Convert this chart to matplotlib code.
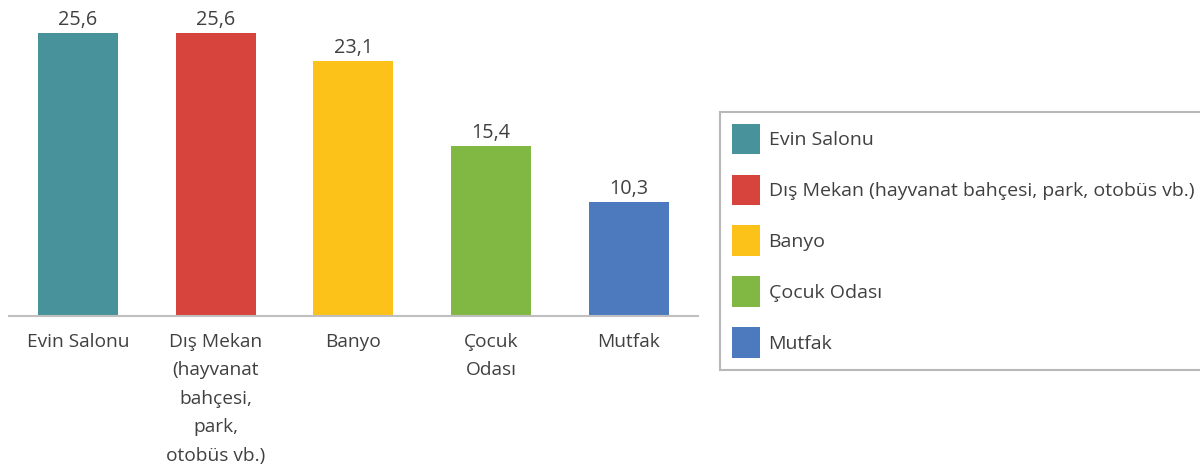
import matplotlib.pyplot as plt
from matplotlib.patches import Patch

categories = ['Evin Salonu', 'Dış Mekan (hayvanat bahçesi, park, otobüs vb.)',
              'Banyo', 'Çocuk Odası', 'Mutfak']
tick_labels = ['Evin Salonu', 'Dış Mekan\n(hayvanat\nbahçesi,\npark,\notobüs vb.)',
               'Banyo', 'Çocuk\nOdası', 'Mutfak']
values = [25.6, 25.6, 23.1, 15.4, 10.3]
colors = ['#48929B', '#D7433D', '#FDC219', '#80B843', '#4D79BF']

plt.rcParams['font.family'] = ['Open Sans', 'DejaVu Sans']
text_color = '#404040'

fig = plt.figure(figsize=(12, 4.67), dpi=100)
ax = fig.add_axes([0.0075, 0.3233, 0.574, 0.6767])

x = range(len(values))
bars = ax.bar(x, values, width=0.58, color=colors)
for b, v in zip(bars, values):
    ax.text(b.get_x() + b.get_width() / 2, v + 0.25, f'{v:.1f}'.replace('.', ','),
            ha='center', va='bottom', fontsize=14.3, color=text_color)

ax.set_xlim(-0.5, len(values) - 0.5)
ax.set_ylim(0, 28.6)
ax.set_xticks(list(x))
ax.set_xticklabels(tick_labels, fontsize=13.8, color=text_color, linespacing=1.75)
ax.tick_params(axis='x', length=0, pad=12)
ax.set_yticks([])
for s in ['top', 'right', 'left']:
    ax.spines[s].set_visible(False)
ax.spines['bottom'].set_color('#BFBFBF')
ax.spines['bottom'].set_linewidth(1.5)

handles = [Patch(facecolor=c, edgecolor='none') for c in colors]
leg = fig.legend(handles, categories, loc='upper left',
                 bbox_to_anchor=(720 / 1200, 1 - 112 / 467),
                 fontsize=14, frameon=True, fancybox=False,
                 handlelength=1.45, handleheight=2.05, handletextpad=0.45,
                 labelspacing=1.04, borderpad=0.6, borderaxespad=0,
                 labelcolor=text_color)
leg.get_frame().set_edgecolor('#A6A6A6')
leg.get_frame().set_linewidth(1.5)

fig.savefig('out.png', dpi=100)
